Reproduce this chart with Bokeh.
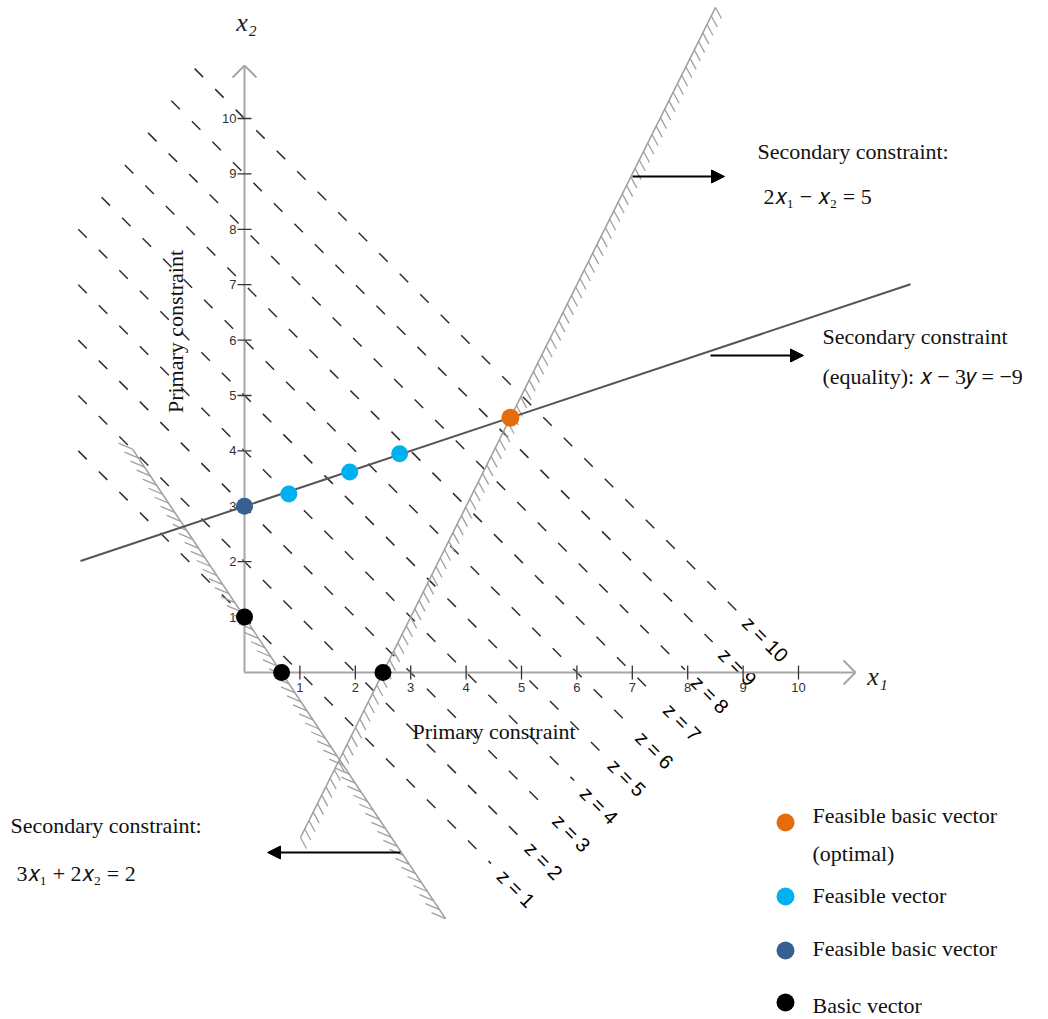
import numpy as np
from bokeh.plotting import figure
from bokeh.models import Range1d, Arrow, NormalHead, Label
from bokeh.embed import file_html
from bokeh.resources import INLINE
from bokeh.core.properties import value

# ---------------- data ----------------
z_levels = [1, 2, 3, 4, 5, 6, 7, 8, 9, 10]
x_ticks = [1, 2, 3, 4, 5, 6, 7, 8, 9, 10]
y_ticks = [1, 2, 3, 4, 5, 6, 7, 8, 9, 10]

# constraints a*x1 + b*x2 = c
equality = (1, -3, -9)        # x - 3y = -9
secondary_a = (2, -1, 5)      # 2x1 - x2 = 5
secondary_b = (3, 2, 2)       # 3x1 + 2x2 = 2

optimal_x = [4.8]
optimal_y = [4.6]
feasible_x = [0.8, 1.9, 2.8]
feasible_y = [3.22, 3.62, 3.95]
feasible_basic_x = [0.0]
feasible_basic_y = [3.0]
basic_x = [0.0, 0.67, 2.5]
basic_y = [1.0, 0.0, 0.0]

legend_labels = ["Feasible basic vector", "Feasible vector", "Feasible basic vector", "Basic vector"]
legend_colors = ["#E46C0A", "#00B0F0", "#366092", "#000000"]

# ---------------- layout helpers ----------------
S = 55.4
OX, OY = 244.0, 672.0
W, H = 1048, 1019


def dx(px):
    return (px - OX) / S


def dy(py):
    return (OY - py) / S


def line_y(c, x):
    a, b, k = c
    return (k - a * np.asarray(x, dtype=float)) / b


p = figure(width=W, height=H, x_range=Range1d(dx(0), dx(W)), y_range=Range1d(dy(H), dy(0)),
           output_backend="svg", toolbar_location=None, min_border=0,
           x_axis_type=None, y_axis_type=None)
p.outline_line_color = None
p.background_fill_color = "white"
p.border_fill_color = "white"

SERIF = value("Liberation Serif")
SANS = value("Liberation Sans")

# ---------------- objective iso-lines ----------------
zx0 = [max(-3.0, -0.9 - (10 - z) * 0.42) for z in z_levels]
zx1 = [(z + 7.9) / 2 for z in z_levels]
p.segment(x0=zx0, y0=[z - a for z, a in zip(z_levels, zx0)],
          x1=zx1, y1=[z - b for z, b in zip(z_levels, zx1)],
          line_color="#2e2e2e", line_width=1.5, line_dash="12 17")
p.text(x=[(z + 8.8) / 2 for z in z_levels], y=[(z - 8.8) / 2 for z in z_levels],
       text=[f"z = {z}" for z in z_levels], angle=-np.pi / 4,
       text_align="center", text_baseline="middle", text_font=SANS,
       text_font_size="20px", text_color="#000000")

# ---------------- axes ----------------
AX = "#a6a6a6"
xa_end, ya_end = dx(855), dy(65)
p.segment(x0=[0, 0], y0=[0, 0], x1=[xa_end, 0], y1=[0, ya_end], line_color=AX, line_width=2)
h = 12 / S
p.segment(x0=[0, 0, xa_end, xa_end], y0=[ya_end, ya_end, 0, 0],
          x1=[-h, h, xa_end - h, xa_end - h], y1=[ya_end - h, ya_end - h, h, -h],
          line_color=AX, line_width=2)
t = 7 / S
p.segment(x0=[v for v in x_ticks], y0=[-t] * len(x_ticks), x1=x_ticks, y1=[t] * len(x_ticks),
          line_color="#333333", line_width=1.3)
p.segment(x0=[-t] * len(y_ticks), y0=y_ticks, x1=[t] * len(y_ticks), y1=y_ticks,
          line_color="#333333", line_width=1.3)
p.text(x=x_ticks, y=[-10 / S] * len(x_ticks), text=[str(v) for v in x_ticks],
       text_align="center", text_baseline="top", text_font=SANS, text_font_size="13px",
       text_color="#333333")
p.text(x=[-8 / S] * len(y_ticks), y=y_ticks, text=[str(v) for v in y_ticks],
       text_align="right", text_baseline="middle", text_font=SANS, text_font_size="13px",
       text_color="#333333")
p.text(x=[dx(246), dx(877)], y=[dy(22), dy(676)], text=["x\u2082", "x\u2081"],
       text_align="center", text_baseline="middle", text_font=SERIF,
       text_font_style="italic", text_font_size="26px", text_color="#222222")

# ---------------- constraint lines ----------------
HC = "#a0a0a0"
# 2x1 - x2 = 5 (hatched)
xa = np.linspace(dx(300), dx(715), 2)
p.line(x=xa, y=line_y(secondary_a, xa), line_color=HC, line_width=1.6)
L = np.hypot(xa[1] - xa[0], line_y(secondary_a, xa)[1] - line_y(secondary_a, xa)[0])
n = int(L / (9.3 / S))
hx = np.linspace(xa[0], xa[1], n)
hy = line_y(secondary_a, hx)
p.segment(x0=hx, y0=hy, x1=hx + 6 / S, y1=hy - 11 / S, line_color=HC, line_width=1.3)

# 3x1 + 2x2 = 2 (hatched)
xb = np.linspace(dx(132), dx(445), 2)
p.line(x=xb, y=line_y(secondary_b, xb), line_color=HC, line_width=1.6)
L = np.hypot(xb[1] - xb[0], line_y(secondary_b, xb)[1] - line_y(secondary_b, xb)[0])
n = int(L / (10.5 / S))
hx = np.linspace(xb[0], xb[1], n)
hy = line_y(secondary_b, hx)
p.segment(x0=hx, y0=hy, x1=hx - 14 / S, y1=hy + 6 / S, line_color=HC, line_width=1.3)

# equality x - 3y = -9
xe = np.linspace(dx(80), dx(910), 2)
p.line(x=xe, y=line_y(equality, xe), line_color="#555555", line_width=2)

# ---------------- points ----------------
p.scatter(x=basic_x, y=basic_y, size=17, fill_color=legend_colors[3], line_color=None)
p.scatter(x=feasible_basic_x, y=feasible_basic_y, size=17, fill_color=legend_colors[2], line_color=None)
p.scatter(x=feasible_x, y=feasible_y, size=17, fill_color=legend_colors[1], line_color=None)
p.scatter(x=optimal_x, y=optimal_y, size=18, fill_color=legend_colors[0], line_color=None)

# ---------------- arrows ----------------
for (x0, y0, x1, y1) in [(632, 176, 724, 176), (710, 355, 803, 355), (400, 852, 267, 852)]:
    p.add_layout(Arrow(end=NormalHead(size=13, fill_color="black", line_color="black"),
                       x_start=dx(x0), y_start=dy(y0), x_end=dx(x1), y_end=dy(y1),
                       line_color="black", line_width=2))

# ---------------- texts ----------------
def label(txt, px, py, angle=0.0, align="left", baseline="alphabetic"):
    p.add_layout(Label(x=dx(px), y=dy(py), text=txt, angle=angle, text_align=align,
                       text_baseline=baseline, text_font="Liberation Serif",
                       text_font_size="22px", text_color="#111111"))


label("Secondary constraint:", 757, 151)
label("2\U0001D465\u2081 \u2212 \U0001D465\u2082 = 5", 763, 196)
label("Secondary constraint", 822, 336)
label("(equality): \U0001D465 \u2212 3\U0001D466 = \u22129", 822, 376)
label("Secondary constraint:", 10, 825)
label("3\U0001D465\u2081 + 2\U0001D465\u2082 = 2", 16, 873)
label("Primary constraint", 412, 731)
label("Primary constraint", 175, 331, angle=np.pi / 2, align="center", baseline="middle")

# ---------------- legend ----------------
leg_y = [822, 896, 950, 1002]
p.scatter(x=[dx(785)] * 4, y=[dy(v) for v in leg_y], size=18, fill_color=legend_colors, line_color=None)
text_base = [815, 895, 948, 1005]
for lab, b in zip(legend_labels, text_base):
    label(lab, 812, b)
label("(optimal)", 812, 853)

open("out.html", "w").write(file_html(p, INLINE))
